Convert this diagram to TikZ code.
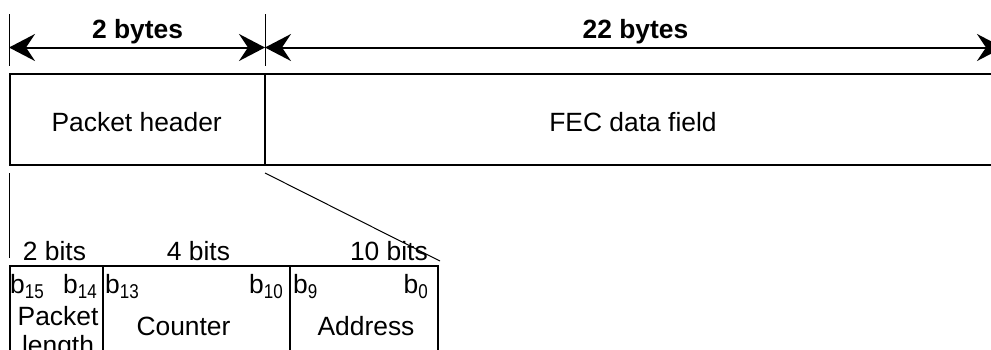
\documentclass[tikz,border=0pt]{standalone}
\usepackage{fontspec}
\setmainfont{Liberation Sans}
\usetikzlibrary{arrows.meta}
\newcommand{\mysub}[1]{\raisebox{-5pt}{\scalebox{0.85}[1]{\fontsize{20}{20}\selectfont #1}}}
\begin{document}
\begin{tikzpicture}[x=1pt,y=-1pt,
  font=\fontsize{26.4}{29}\selectfont,
  lbl/.style={inner sep=0pt, anchor=base},
  boxline/.style={line width=2pt, line cap=rect},
  fieldline/.style={line width=1.6pt},
  thinline/.style={line width=1pt},
  dimarrow/.style={line width=2pt, {Stealth[length=26pt,width=27pt,inset=9pt]}-{Stealth[length=26pt,width=27pt,inset=9pt]}}]
\useasboundingbox (0,0) rectangle (991,349);
% dimension lines
\coordinate (d0t) at (9,14); \coordinate (d0b) at (9,66);
\coordinate (d1t) at (265,14); \coordinate (d1b) at (265,66);
\draw[thinline] (d0t) -- (d0b);
\draw[thinline] (d1t) -- (d1b);
\coordinate (a0) at (9,47.5); \coordinate (a1) at (265,47.5); \coordinate (a2) at (1003,47.5);
\draw[dimarrow] (a0) -- (a1);
\draw[dimarrow] (a1) -- (a2);
\node[lbl, font=\fontsize{26.4}{29}\selectfont\bfseries] (b2) at (137.5,38) {2 bytes};
\node[lbl, font=\fontsize{26.4}{29}\selectfont\bfseries] (b22) at (635.5,38) {22 bytes};
% main packet box
\coordinate (tl) at (10,74); \coordinate (bl) at (10,165);
\coordinate (tm) at (265,74); \coordinate (bm) at (265,165);
\coordinate (tr) at (1000,74); \coordinate (br) at (1000,165);
\draw[boxline] (tr) -- (tl) -- (bl) -- (br);
\draw[boxline] (tm) -- (bm);
\node[lbl] (ph) at (136.7,131) {Packet header};
\node[lbl] (fec) at (633,131) {FEC data field};
% expansion lines
\coordinate (e0t) at (9,173); \coordinate (e0b) at (9,258);
\coordinate (e1t) at (265,173); \coordinate (e1b) at (440,261);
\draw[thinline] (e0t) -- (e0b);
\draw[thinline] (e1t) -- (e1b);
% header fields
\coordinate (f0t) at (10,266); \coordinate (f0b) at (10,360);
\coordinate (f1t) at (103,266); \coordinate (f1b) at (103,360);
\coordinate (f2t) at (290,266); \coordinate (f2b) at (290,360);
\coordinate (f3t) at (438,266); \coordinate (f3b) at (438,360);
\draw[fieldline] (f0b) -- (f0t) -- (f3t) -- (f3b);
\draw[fieldline] (f1t) -- (f1b);
\draw[fieldline] (f2t) -- (f2b);
\node[lbl] (w2) at (54.5,260) {2 bits};
\node[lbl] (w4) at (198.5,260) {4 bits};
\node[lbl, anchor=base east] (w10) at (428,260) {10 bits};
\node[lbl, anchor=base west] (b15) at (10,293) {b\mysub{15}};
\node[lbl, anchor=base east] (b14) at (97,293) {b\mysub{14}};
\node[lbl, anchor=base west] (b13) at (105,293) {b\mysub{13}};
\node[lbl, anchor=base east] (b10) at (283,293) {b\mysub{10}};
\node[lbl, anchor=base west] (b9) at (293,293) {b\mysub{9}};
\node[lbl, anchor=base east] (b0) at (428,293) {b\mysub{0}};
\node[lbl] (pl1) at (58,325) {Packet};
\node[lbl] (pl2) at (58,354) {length};
\node[lbl] (cnt) at (183.5,335) {Counter};
\node[lbl] (adr) at (366,335) {Address};
\end{tikzpicture}
\end{document}
